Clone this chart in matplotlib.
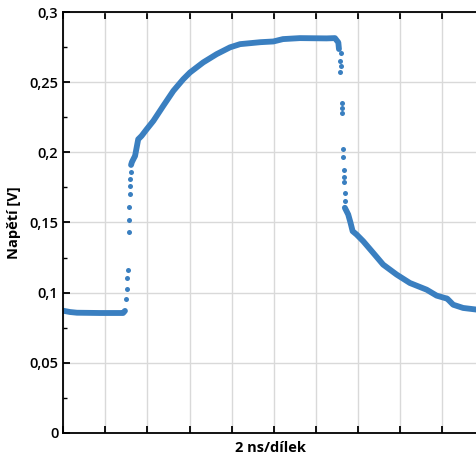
import numpy as np
import matplotlib
matplotlib.use("Agg")
import matplotlib.pyplot as plt
from matplotlib.ticker import MultipleLocator

plt.rcParams['font.family'] = ['Open Sans', 'DejaVu Sans']

# dense parts of the trace (time in ns, voltage in V)
base_t = [0.0, 0.32, 0.65, 1.74, 2.84, 2.93]
base_v = [0.0871, 0.0862, 0.0857, 0.0855, 0.0855, 0.0870]

rise_t = [3.22, 3.26, 3.36, 3.41, 3.56, 3.72, 3.96, 4.28, 4.75, 5.23, 5.70, 6.02,
          6.65, 7.29, 7.92, 8.40, 9.37, 9.98, 10.44, 11.24, 12.51, 12.91, 13.07, 13.10]
rise_v = [0.191, 0.193, 0.196, 0.1974, 0.2093, 0.2117, 0.2164, 0.2224, 0.2331,
          0.2438, 0.2521, 0.2569, 0.2641, 0.270, 0.2748, 0.2771, 0.2785, 0.2790,
          0.2807, 0.2814, 0.2812, 0.2814, 0.2783, 0.2736]

decay_t = [13.38, 13.54, 13.65, 13.75, 13.94, 14.25, 14.73, 15.20, 15.84, 16.47,
           17.27, 17.74, 18.13, 18.24, 18.53, 19.0, 19.66]
decay_v = [0.1605, 0.1557, 0.1498, 0.1438, 0.1414, 0.1367, 0.1283, 0.120, 0.1129,
           0.1069, 0.1021, 0.0979, 0.0962, 0.0958, 0.0914, 0.0891, 0.0879]

# sparse samples on the fast edges
up_t = [2.98, 3.04, 3.04, 3.09, 3.11, 3.11, 3.14, 3.17, 3.17, 3.17, 3.20]
up_v = [0.0955, 0.1026, 0.1107, 0.1164, 0.1429, 0.1517, 0.1613, 0.170, 0.176, 0.1807, 0.186]

down_t = [13.19, 13.15, 13.21, 13.15, 13.26, 13.26, 13.26, 13.27, 13.27, 13.32,
          13.32, 13.35, 13.37, 13.38]
down_v = [0.2707, 0.2652, 0.2616, 0.2574, 0.2354, 0.2319, 0.2283, 0.2021, 0.1969,
          0.1874, 0.1826, 0.1790, 0.1712, 0.1655]

yticks = [0, 0.05, 0.1, 0.15, 0.2, 0.25, 0.3]
ylabels = ["0", "0,05", "0,1", "0,15", "0,2", "0,25", "0,3"]

col = "#3a7fc0"

fig = plt.figure(figsize=(4.77, 4.55), dpi=100)
ax = fig.add_axes([0.1327, 0.0484, 0.8673, 0.9252])

for t, v in [(base_t, base_v), (rise_t, rise_v), (decay_t, decay_v)]:
    ax.plot(t, v, color=col, lw=4.2, solid_capstyle="round", solid_joinstyle="round")
ax.plot(up_t, up_v, "o", color=col, ms=3.6, mew=0)
ax.plot(down_t, down_v, "o", color=col, ms=3.6, mew=0)

ax.set_xlim(0, 19.66)
ax.set_ylim(0, 0.3)
ax.xaxis.set_major_locator(MultipleLocator(2))
ax.set_xticklabels([])
ax.set_yticks(yticks)
ax.set_yticklabels(ylabels)
ax.yaxis.set_minor_locator(MultipleLocator(0.025))

ax.grid(True, color="#d9d9d9", lw=1)
ax.set_axisbelow(True)
ax.spines["right"].set_visible(False)
for s in ["left", "bottom", "top"]:
    ax.spines[s].set_linewidth(1.3)
ax.tick_params(direction="in", length=5, width=1.3, top=True, labelsize=10.5)
ax.tick_params(which="minor", direction="in", length=3, width=1)
for lab in ax.get_yticklabels():
    lab.set_fontweight("semibold")

ax.set_xlabel("2 ns/dílek", fontsize=10.5, fontweight="bold", labelpad=2)
ax.set_ylabel("Napětí [V]", fontsize=10.5, fontweight="bold", labelpad=6)

plt.savefig("out.png", dpi=100)
